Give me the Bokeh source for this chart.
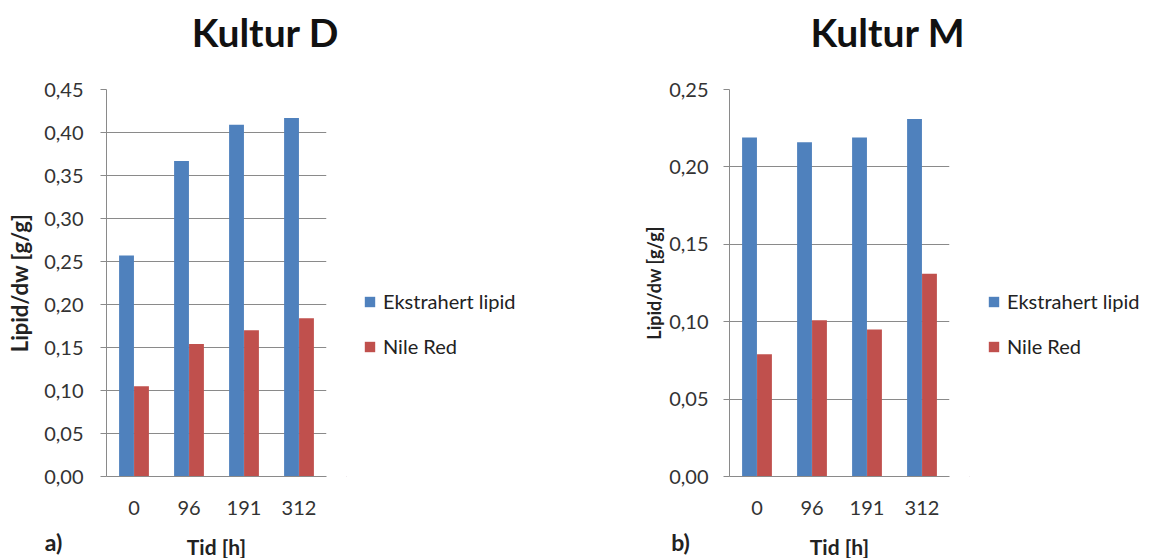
from bokeh.plotting import figure
from bokeh.layouts import row, column
from bokeh.models import FactorRange, Range1d, Legend, LegendItem, FixedTicker, ColumnDataSource
from bokeh.core.properties import value
from bokeh.transform import dodge
from bokeh.embed import file_html
from bokeh.resources import INLINE

times = ["0", "96", "191", "312"]
series = ["Ekstrahert lipid", "Nile Red"]
d_lipid = [0.257, 0.367, 0.409, 0.417]
d_nile = [0.105, 0.154, 0.170, 0.184]
m_lipid = [0.219, 0.216, 0.219, 0.231]
m_nile = [0.079, 0.101, 0.095, 0.131]
d_ticks = [0.0, 0.05, 0.10, 0.15, 0.20, 0.25, 0.30, 0.35, 0.40, 0.45]
m_ticks = [0.0, 0.05, 0.10, 0.15, 0.20, 0.25]
titles = ["Kultur D", "Kultur M"]
letters = ["a)", "b)"]

BLUE = "#4F81BD"
RED = "#C0504D"
GRID = "#8a8a8a"
FONT = "Lato"
FW = 220   # frame width
RB = 20    # right border of each chart
TITLE_H = 70
MID_H = 558 - TITLE_H - 33
BOT_H = 33


def blank(width, height):
    f = figure(width=width, height=height, x_range=Range1d(0, width),
               y_range=Range1d(height, 0), output_backend="svg", toolbar_location=None,
               min_border=0, outline_line_color=None)
    f.axis.visible = False
    f.grid.visible = False
    return f


def make(lipid, nile, ticks, ymax, left, ylab_size, ylab_standoff, ytick_standoff):
    src = ColumnDataSource(dict(t=times, a=lipid, b=nile))
    p = figure(x_range=FactorRange(*times, range_padding=0), y_range=Range1d(0, ymax),
               width=left + FW + RB, height=MID_H, output_backend="svg", toolbar_location=None,
               min_border_left=left, min_border_right=RB,
               min_border_top=89 - TITLE_H, min_border_bottom=49)
    p.outline_line_color = None
    p.vbar(x=dodge("t", -0.136, range=p.x_range), top="a", width=0.27, source=src,
           fill_color=BLUE, line_color=None)
    p.vbar(x=dodge("t", 0.136, range=p.x_range), top="b", width=0.27, source=src,
           fill_color=RED, line_color=None)

    p.yaxis.ticker = FixedTicker(ticks=ticks)
    p.yaxis.major_label_overrides = {t: f"{t:.2f}".replace(".", ",") for t in ticks}
    p.yaxis.major_label_text_font = FONT
    p.yaxis.major_label_text_font_size = "20px"
    p.yaxis.major_label_text_color = "#333333"
    p.yaxis.major_label_standoff = ytick_standoff
    p.yaxis.axis_line_color = GRID
    p.yaxis.major_tick_line_color = GRID
    p.yaxis.major_tick_in = 0
    p.yaxis.major_tick_out = 6
    p.yaxis.minor_tick_line_color = None
    p.yaxis.axis_label = "Lipid/dw [g/g]"
    p.yaxis.axis_label_text_font = FONT
    p.yaxis.axis_label_text_font_style = "bold"
    p.yaxis.axis_label_text_font_size = ylab_size
    p.yaxis.axis_label_text_color = "#222222"
    p.yaxis.axis_label_standoff = ylab_standoff

    p.xaxis.axis_line_color = GRID
    p.xaxis.major_tick_line_color = None
    p.xaxis.major_tick_out = 0
    p.xaxis.major_label_text_font = FONT
    p.xaxis.major_label_text_font_size = "20px"
    p.xaxis.major_label_text_color = "#333333"
    p.xaxis.major_label_standoff = 24

    p.xgrid.grid_line_color = None
    p.ygrid.grid_line_color = GRID
    p.ygrid.ticker = FixedTicker(ticks=ticks)
    return p


def legend_fig(width, dx):
    f = figure(width=width, height=MID_H, x_range=Range1d(0, 1), y_range=Range1d(0, 1),
               output_backend="svg", toolbar_location=None, min_border=0,
               outline_line_color=None)
    f.axis.visible = False
    f.grid.visible = False
    # off-screen swatch renderers, only used for the legend glyphs
    r1 = f.vbar(x=[-5], top=[-5], width=0.5, fill_color=BLUE, line_color=None)
    r2 = f.vbar(x=[-5], top=[-5], width=0.5, fill_color=RED, line_color=None)
    leg = Legend(items=[LegendItem(label=series[0], renderers=[r1]),
                        LegendItem(label=series[1], renderers=[r2])],
                 location=(dx, 118), background_fill_alpha=0,
                 border_line_color=None,
                 label_text_font=FONT, label_text_font_size="20px", label_text_color="#222222",
                 glyph_width=13, glyph_height=13, label_height=24, spacing=21,
                 label_standoff=7, padding=0, margin=0)
    f.add_layout(leg)
    return f


def title_strip(width, title, cx):
    t = blank(width, TITLE_H)
    t.text(x=[cx], y=[31], text=[title], text_font=value(FONT), text_font_style="bold",
           text_font_size="39px", text_color="#111111", text_align="center",
           text_baseline="middle")
    return t


def bottom_strip(width, left, letter, letter_dx):
    s = blank(width, BOT_H)
    s.text(x=[left - letter_dx], y=[16], text=[letter], text_font=value(FONT),
           text_font_style="bold", text_font_size="23px", text_color="#222222",
           text_align="center", text_baseline="middle")
    s.text(x=[left + FW / 2], y=[21], text=["Tid [h]"], text_font=value(FONT),
           text_font_style="bold", text_font_size="21px", text_color="#222222",
           text_align="center", text_baseline="middle")
    return s


p1 = make(d_lipid, d_nile, d_ticks, 0.45, 106, "22px", 8, 17)
p2 = make(m_lipid, m_nile, m_ticks, 0.25, 149, "18px", 1, 15)
l1 = legend_fig(580 - p1.width, 17)
l2 = legend_fig(1159 - 580 - p2.width, 18)
t1 = title_strip(580, titles[0], 265)
t2 = title_strip(579, titles[1], 887.5 - 580)
s1 = bottom_strip(580, 106, letters[0], 53)
s2 = bottom_strip(579, 149, letters[1], 49)
p = column(row(t1, t2, spacing=0),
           row(p1, l1, p2, l2, spacing=0),
           row(s1, s2, spacing=0), spacing=0)
open("out.html", "w").write(file_html(p, INLINE))
